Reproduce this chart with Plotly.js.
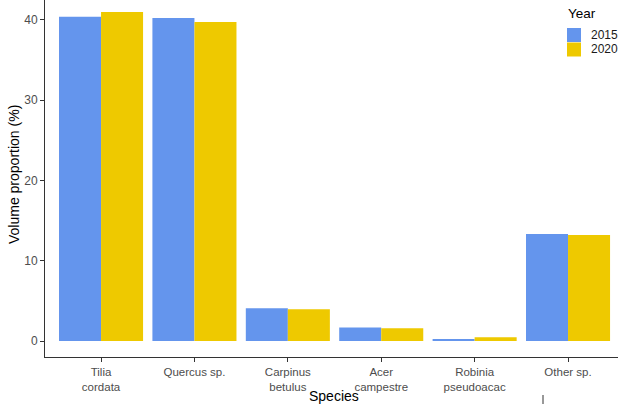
<!DOCTYPE html>
<html>
<head>
<meta charset="utf-8">
<script src="https://cdn.plot.ly/plotly-3.0.1.min.js"></script>
<style>html,body{margin:0;padding:0;background:#fff;}#chart{width:618px;height:404px;}</style>
</head>
<body>
<div id="chart"></div>
<script>
const species = ["Tilia<br>cordata", "Quercus sp.", "Carpinus<br>betulus", "Acer<br>campestre", "Robinia<br>pseudoacac", "Other sp."];
const years = ["2015", "2020"];
const values2015 = [40.4, 40.25, 4.07, 1.7, 0.25, 13.33];
const values2020 = [41.0, 39.75, 3.95, 1.58, 0.46, 13.2];
const colors = ["#6495ED", "#EEC900"];
const legendTitle = "Year";
const xTitle = "Species";
const yTitle = "Volume proportion (%)";

const traces = [values2015, values2020].map((v, i) => ({
  type: "bar",
  name: years[i],
  x: species,
  y: v,
  marker: {color: colors[i], line: {width: 0}},
  hoverinfo: "none",
  showlegend: false
}));

// paper coordinates helpers: plot area px x 45..618, y 0..357
const px = x => (x - 45) / 573;
const py = y => (357 - y) / 357;
const shapes = [];
const annotations = [
  {xref: "paper", yref: "paper", x: px(566), y: py(14), xanchor: "left", yanchor: "middle",
   text: legendTitle, showarrow: false, font: {size: 13.5, color: "#000"}},
  {xref: "paper", yref: "paper", x: px(334.5), y: py(395.5), xanchor: "center", yanchor: "middle",
   text: xTitle, showarrow: false, font: {size: 14, color: "#000"}},
  {xref: "paper", yref: "paper", x: px(14), y: py(175), xanchor: "center", yanchor: "middle",
   text: yTitle, textangle: -90, showarrow: false, font: {size: 14, color: "#000"}}
];
years.forEach((yr, i) => {
  const top = 28 + i * 14.5;
  shapes.push({type: "rect", xref: "paper", yref: "paper", x0: px(567), x1: px(581), y0: py(top), y1: py(top + 14),
    fillcolor: colors[i], line: {width: 0}});
  annotations.push({xref: "paper", yref: "paper", x: px(589), y: py(top + 7), xanchor: "left", yanchor: "middle",
    text: yr, showarrow: false, font: {size: 12, color: "#1a1a1a"}});
});
// stray tick mark at bottom
shapes.push({type: "line", xref: "paper", yref: "paper", x0: px(543), x1: px(543), y0: py(395), y1: py(405), line: {color: "#333", width: 1}});

const layout = {
  width: 618, height: 404, autosize: false,
  margin: {l: 45, r: 0, t: 0, b: 47, pad: 0},
  paper_bgcolor: "#fff", plot_bgcolor: "#fff",
  font: {family: "Liberation Sans, Arial, sans-serif", size: 12, color: "#4D4D4D"},
  barmode: "group", bargap: 0.1, bargroupgap: 0,
  xaxis: {
    type: "category",
    range: [-0.6, 5.535],
    showline: true, linecolor: "#333", linewidth: 1,
    ticks: "outside", ticklen: 4, tickcolor: "#333",
    showgrid: false, zeroline: false, automargin: false,
    tickfont: {size: 11.5, color: "#4D4D4D"}
  },
  yaxis: {
    range: [-1.99, 42.49],
    tickvals: [0, 10, 20, 30, 40],
    showline: true, linecolor: "#333", linewidth: 1,
    ticks: "outside", ticklen: 4, tickcolor: "#333",
    showgrid: false, zeroline: false, automargin: false,
    tickfont: {size: 12, color: "#4D4D4D"}
  },
  shapes: shapes,
  annotations: annotations,
  showlegend: false
};

Plotly.newPlot("chart", traces, layout, {staticPlot: true, displayModeBar: false});
</script>
</body>
</html>
